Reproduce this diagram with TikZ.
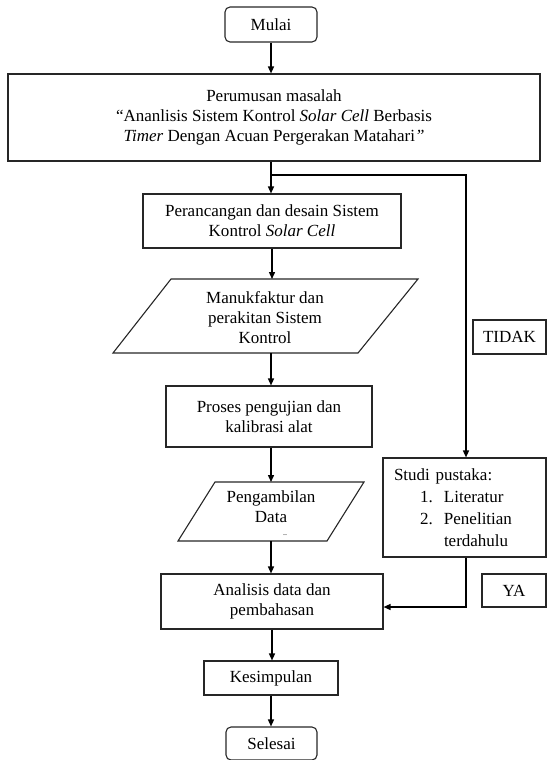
\documentclass[tikz,border=0pt]{standalone}
\usepackage{fontspec}
\setmainfont{Liberation Serif}
\usetikzlibrary{arrows.meta}
\begin{document}
\begin{tikzpicture}[x=1pt,y=-1pt,
  box/.style={draw=black!85, line width=1.1pt, inner sep=0pt, align=center, font=\fontsize{17}{20}\selectfont},
  term/.style={box, rounded corners=5pt},
  lbl/.style={inner sep=0pt, align=center, font=\fontsize{17}{20}\selectfont},
  conn/.style={line width=1.4pt, -{Triangle[length=7pt,width=6pt]}},
  para/.style={draw=black!85, line width=1.1pt, line join=miter}]
\useasboundingbox (0,0) rectangle (547,760);

% nodes
\node[term, minimum width=92pt, minimum height=35pt] (mulai) at (271,24.5) {Mulai};
\node[box, minimum width=532pt, minimum height=87pt] (perumusan) at (274,117.5)
  {Perumusan masalah\\
   ``Ananlisis Sistem Kontrol \textit{Solar Cell} Berbasis\\
   \textit{Timer} Dengan Acuan Pergerakan Matahari\textit{''}};
\node[box, minimum width=258pt, minimum height=54pt] (perancangan) at (272,221)
  {Perancangan dan desain Sistem\\ Kontrol \textit{Solar Cell}};

% parallelogram 1
\coordinate (m1) at (113,353);
\coordinate (m2) at (171,279);
\coordinate (m3) at (418,279);
\coordinate (m4) at (358,353);
\draw[para] (m1) -- (m2) -- (m3) -- (m4) -- cycle;
\node[lbl] (manuk) at (265,318) {Manukfaktur dan\\ perakitan Sistem\\ Kontrol};
\coordinate (manukT) at (272,279);
\coordinate (manukB) at (271,353);

\node[box, minimum width=206pt, minimum height=61pt] (proses) at (269,416.5)
  {Proses pengujian dan\\ kalibrasi alat};

% parallelogram 2
\coordinate (p1) at (178,541);
\coordinate (p2) at (215,482);
\coordinate (p3) at (364,482);
\coordinate (p4) at (327,541);
\draw[para] (p1) -- (p2) -- (p3) -- (p4) -- cycle;
\node[lbl] (pengambilan) at (271,507) {Pengambilan\\ Data};
\node[inner sep=0pt, font=\fontsize{8}{8}\selectfont] (dots) at (285,535) {..};
\coordinate (pengT) at (271,482);
\coordinate (pengB) at (271,541);

\node[box, minimum width=222pt, minimum height=55pt] (analisis) at (272,601.5)
  {Analisis data dan\\ pembahasan};
\node[box, minimum width=134pt, minimum height=34pt] (kesimpulan) at (271,678) {Kesimpulan};
\node[term, minimum width=91pt, minimum height=33pt] (selesai) at (271.5,743.5) {Selesai};

\node[box, minimum width=163pt, minimum height=99pt, text width=141pt, inner xsep=11pt,
      align=left, font=\fontsize{17}{22}\selectfont] (studi) at (464.5,507.5)
  {Studi pustaka:\\
   \hspace*{26pt}\makebox[24pt][l]{1.}Literatur\\
   \hspace*{26pt}\makebox[24pt][l]{2.}Penelitian\\
   \hspace*{50pt}terdahulu};
\node[box, minimum width=73pt, minimum height=34pt] (tidak) at (509.5,337) {TIDAK};
\node[box, minimum width=64pt, minimum height=33pt] (ya) at (514,590.5) {YA};

% connectors
\coordinate (split) at (271,175);
\coordinate (rtop) at (466,175);
\coordinate (join) at (466,607);
\draw[conn] (mulai.south) -- (mulai.south |- perumusan.north);
\draw[conn] (split |- perumusan.south) -- (split |- perancangan.north);
\draw[conn] (split) -- (rtop) -- (rtop |- studi.north);
\draw[conn] (perancangan.south -| manukT) -- (manukT);
\draw[conn] (manukB) -- (manukB |- proses.north);
\draw[conn] (manukB |- proses.south) -- (pengT);
\draw[conn] (pengB) -- (pengB |- analisis.north);
\draw[conn] (rtop |- studi.south) -- (join) -- (join -| analisis.east);
\draw[conn] (analisis.south) -- (analisis.south |- kesimpulan.north);
\draw[conn] (kesimpulan.south) -- (kesimpulan.south |- selesai.north);
\end{tikzpicture}
\end{document}
